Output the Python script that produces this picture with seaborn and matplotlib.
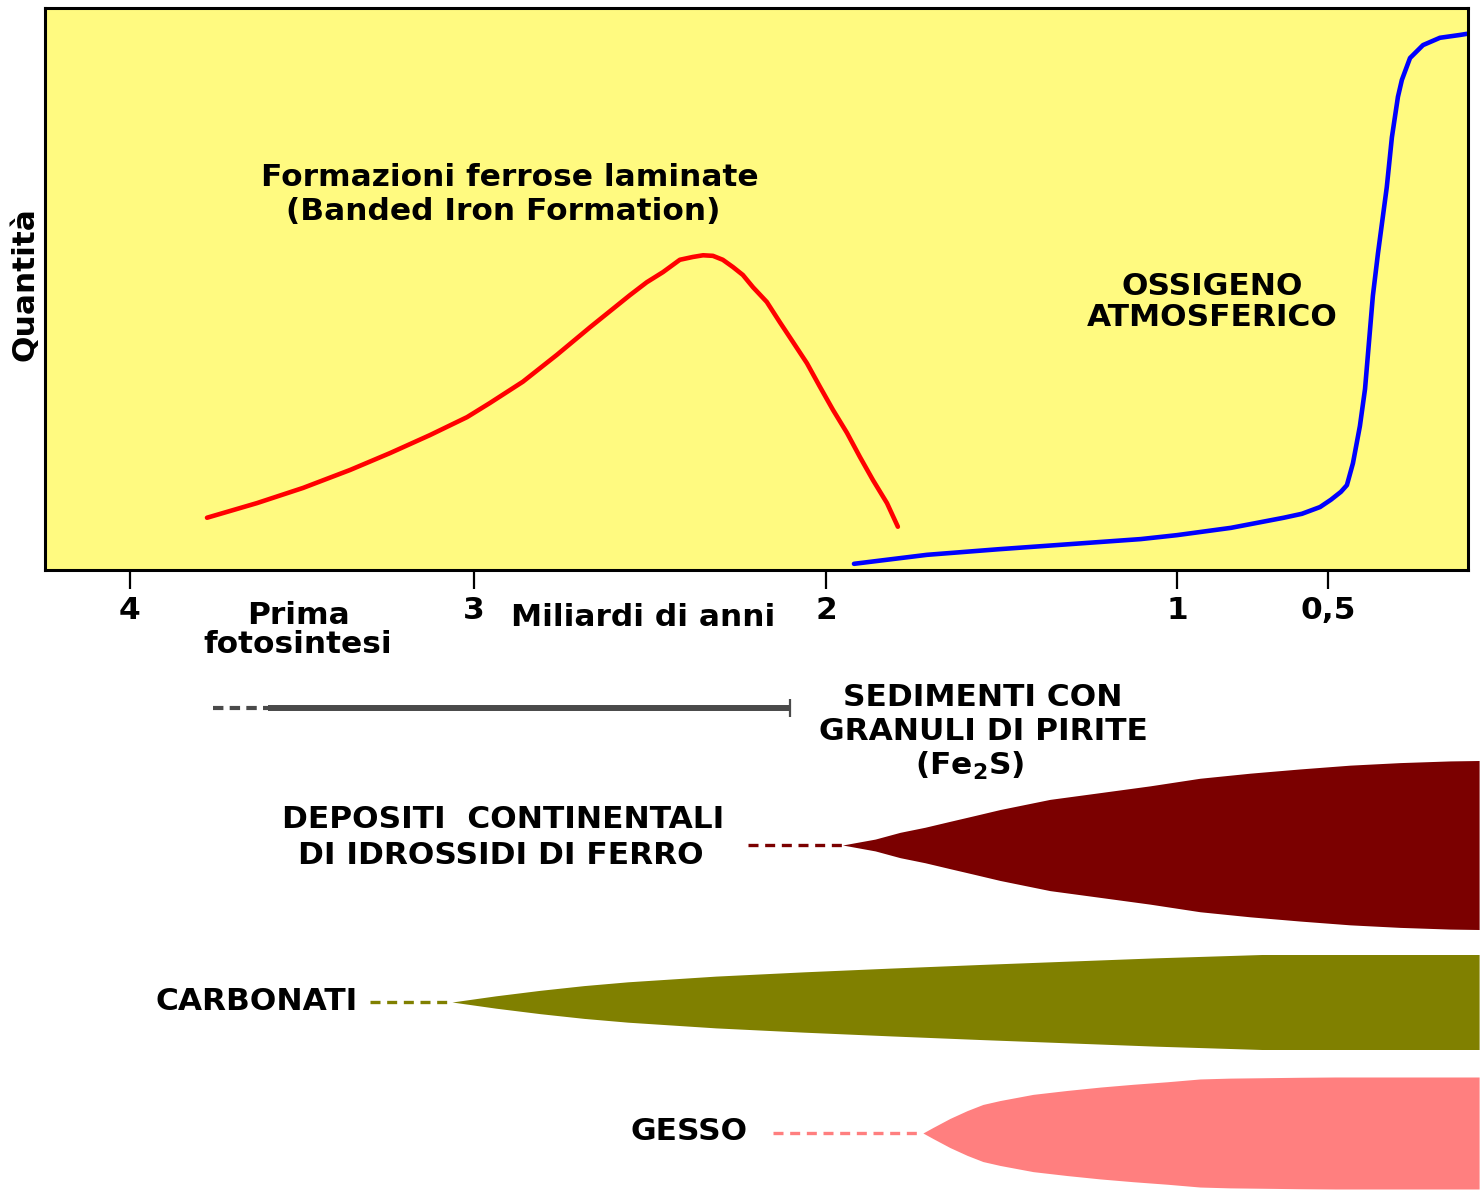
import numpy as np
import matplotlib
matplotlib.use('Agg')
import matplotlib.pyplot as plt
import seaborn as sns

# age axis, billions of years (the original axis is not evenly spaced)
tick_ages = [4, 3, 2, 1, 0.5]
tick_labels = ['4', '3', '2', '1', '0,5']

# banded iron formations, relative quantity 0-100
bif_age = [3.776, 3.631, 3.497, 3.360, 3.244, 3.128, 3.020, 2.955, 2.861, 2.764,
           2.670, 2.557, 2.509, 2.463, 2.415, 2.378, 2.349, 2.321, 2.293, 2.264,
           2.236, 2.207, 2.168, 2.131, 2.094, 2.054, 2.017, 1.980, 1.940, 1.903,
           1.866, 1.826, 1.795]
bif_qty = [9.3, 11.9, 14.6, 17.8, 20.8, 24.0, 27.2, 29.7, 33.5, 38.3,
           43.2, 48.9, 51.2, 53.0, 55.2, 55.7, 56.0, 55.9, 55.2, 53.9,
           52.5, 50.3, 47.7, 44.1, 40.6, 36.8, 32.6, 28.5, 24.4, 20.1,
           16.0, 11.9, 7.7]

# atmospheric oxygen
oxy_age = [1.920, 1.712, 1.507, 1.305, 1.103, 1.0, 0.821, 0.646, 0.586, 0.526,
           0.490, 0.457, 0.437, 0.417, 0.394, 0.377, 0.351, 0.334, 0.305, 0.288,
           0.268, 0.255, 0.228, 0.185, 0.129, 0.063, 0.040]
oxy_qty = [1.1, 2.7, 3.7, 4.6, 5.5, 6.2, 7.5, 9.3, 10.0, 11.2,
           12.5, 13.9, 15.1, 19.0, 25.6, 32.2, 48.8, 56.4, 68.1, 77.0,
           84.2, 87.2, 91.1, 93.4, 94.7, 95.2, 95.4]

# sediments with pyrite grains: uncertain part, then attested range
pyrite_uncertain = [3.759, 3.599]
pyrite_range = [3.599, 2.103]

# continental iron hydroxide deposits: relative thickness 0-1
iron_start = 2.222
iron_age = [1.953, 1.860, 1.789, 1.718, 1.647, 1.575, 1.504, 1.362, 1.219, 1.077,
            0.924, 0.758, 0.593, 0.427, 0.262, 0.096, 0.0]
iron_width = [0.0, 0.07, 0.15, 0.21, 0.28, 0.35, 0.42, 0.54, 0.62, 0.70,
              0.79, 0.85, 0.90, 0.945, 0.975, 0.995, 1.0]

# carbonates
carb_start = 3.302
carb_age = [3.064, 2.938, 2.813, 2.688, 2.563, 2.313, 2.063, 1.812, 1.561, 1.311,
            1.060, 0.719, 0.0]
carb_width = [0.0, 0.13, 0.245, 0.345, 0.425, 0.545, 0.635, 0.715, 0.79, 0.86,
              0.93, 1.0, 1.0]

# gypsum
gyp_start = 2.151
gyp_age = [1.724, 1.695, 1.647, 1.598, 1.553, 1.504, 1.410, 1.313, 1.219, 1.125,
           1.028, 0.924, 0.825, 0.593, 0.477, 0.0]
gyp_width = [0.0, 0.10, 0.26, 0.40, 0.51, 0.58, 0.69, 0.76, 0.82, 0.87,
             0.915, 0.965, 0.98, 0.995, 1.0, 1.0]

# ---------------------------------------------------------------------------
sns.set_theme(style='white')
plt.rcParams['font.family'] = ['DejaVu Sans']
plt.rcParams['font.weight'] = 'bold'
plt.rcParams['text.color'] = 'black'
plt.rcParams['xtick.color'] = 'black'
plt.rcParams['axes.labelcolor'] = 'black'
plt.rcParams['mathtext.default'] = 'regular'
FS = 22.5

W, H = 1480, 1195
fig = plt.figure(figsize=(W / 100, H / 100), dpi=100)


def P(x, y):
    # pixel position on the page -> figure fraction
    return x / W, 1 - y / H


# uneven spacing of the printed age axis
anchor_age = np.array([5, 4, 3, 2, 1, 0.5, -0.5])
anchor_pos = np.array([-214, 130, 474, 826, 1177, 1328, 1630])


def fwd(a):
    return -np.interp(-np.asarray(a, float), -anchor_age, anchor_pos)


def inv(v):
    return -np.interp(-np.asarray(v, float), anchor_pos, -anchor_age)


# top panel
ax = fig.add_axes([45 / W, 1 - 570 / H, 1423 / W, 562 / H])
sns.lineplot(x=bif_age, y=bif_qty, ax=ax, color='#ff0000', lw=3.3, sort=False)
sns.lineplot(x=oxy_age, y=oxy_qty, ax=ax, color='#0000ff', lw=3.3, sort=False)
for l in ax.lines:
    l.set_solid_joinstyle('round')
ax.set_xscale('function', functions=(fwd, inv))
ax.set_xlim(4.247, 0.036)
ax.set_ylim(0, 100)
ax.set_facecolor('#fffa80')
for s in ax.spines.values():
    s.set_color('black')
    s.set_linewidth(2.2)
ax.set_xticks(tick_ages)
ax.set_xticklabels(tick_labels)
ax.set_yticks([])
ax.tick_params(axis='x', direction='out', length=14, width=1.6, colors='black',
               pad=5, labelsize=FS, bottom=True)
for t in ax.get_xticklabels():
    t.set_fontweight('bold')

fig.text(*P(25, 284), 'Quantità', rotation=90, ha='center', va='center', fontsize=FS)
fig.text(*P(510, 178), 'Formazioni ferrose laminate', ha='center', va='center', fontsize=FS)
fig.text(*P(503, 212), '(Banded Iron Formation)', ha='center', va='center', fontsize=FS)
fig.text(*P(1212, 302), 'OSSIGENO\nATMOSFERICO', ha='center', va='center',
         fontsize=FS, linespacing=1.05)
fig.text(*P(298, 630), 'Prima\nfotosintesi', ha='center', va='center',
         fontsize=FS, linespacing=1.0)
fig.text(*P(643, 617), 'Miliardi di anni', ha='center', va='center', fontsize=FS)

# bottom panel: same age scale, rows in page pixels below the chart
ax2 = fig.add_axes([45 / W, 0, 1435 / W, 620 / H])
ax2.set_xscale('function', functions=(fwd, inv))
ax2.set_xlim(4.247, -0.003)
ax2.set_ylim(620, 0)
ax2.axis('off')
ax2.patch.set_alpha(0)

# pyrite bar
y_pyr = 133
ax2.plot(pyrite_uncertain, [y_pyr, y_pyr], color='#4a4a4a', lw=3, ls=(0, (2.5, 1.5)))
ax2.plot(pyrite_range, [y_pyr, y_pyr], color='#4a4a4a', lw=4.3, solid_capstyle='butt')
ax2.plot([pyrite_range[1]], [y_pyr], marker='|', ms=13, mew=1.6, color='#4a4a4a')

bands = [
    (iron_start, iron_age, iron_width, 270, 84.5, '#7b0000'),
    (carb_start, carb_age, carb_width, 427, 47.5, '#808000'),
    (gyp_start, gyp_age, gyp_width, 558, 56, '#ff7f7f'),
]
for start, age, width, yc, hw, col in bands:
    w = np.array(width) * hw
    ax2.fill_between(age, yc - w, yc + w, color=col, lw=0)
    ax2.plot([start, age[0]], [yc, yc], color=col, lw=2.4, ls=(0, (3, 2)))

fig.text(*P(983, 697), 'SEDIMENTI CON', ha='center', va='center', fontsize=FS)
fig.text(*P(983, 731), 'GRANULI DI PIRITE', ha='center', va='center', fontsize=FS)
fig.text(*P(970, 766), '(Fe$_2$S)', ha='center', va='center', fontsize=FS)
fig.text(*P(503, 820), 'DEPOSITI  CONTINENTALI', ha='center', va='center', fontsize=FS)
fig.text(*P(501, 855), 'DI IDROSSIDI DI FERRO', ha='center', va='center', fontsize=FS)
fig.text(*P(358, 1001), 'CARBONATI', ha='right', va='center', fontsize=FS)
fig.text(*P(748, 1132), 'GESSO', ha='right', va='center', fontsize=FS)

fig.savefig('out.png', dpi=100, facecolor='white')
